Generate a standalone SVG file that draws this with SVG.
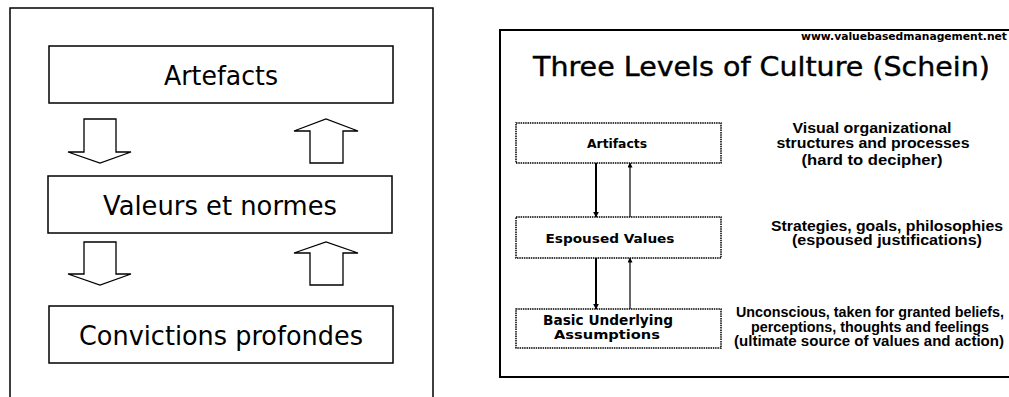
<svg xmlns="http://www.w3.org/2000/svg" width="1009" height="397" viewBox="0 0 1009 397">
<defs>
<style>
.frame{fill:#fff;stroke:#000;stroke-width:1.5}
.box{fill:#fff;stroke:#000;stroke-width:1.5}
.big{font-family:"DejaVu Sans",Verdana,sans-serif;font-size:27px;fill:#000;text-anchor:middle}
.blk{fill:#fff;stroke:#000;stroke-width:1.3}
.rframe{fill:#fff;stroke:#000;stroke-width:2}
.dbox{fill:#fff;stroke:#000;stroke-width:1.5;stroke-dasharray:1.5 0.8}
.sm{font-family:"DejaVu Sans",Verdana,sans-serif;font-size:13px;font-weight:bold;fill:#000;text-anchor:middle}
.desc{font-family:"Liberation Sans",Arial,sans-serif;font-size:14px;font-weight:bold;fill:#000;text-anchor:middle}
.title{font-family:"DejaVu Sans",Verdana,sans-serif;font-size:26px;fill:#000;stroke:#000;stroke-width:0.4}
.dn{stroke:#000;stroke-width:2;fill:none}
.up{stroke:#000;stroke-width:1.2;fill:none}
</style>
<marker id="ah" viewBox="0 0 10 10" refX="9" refY="5" markerWidth="5" markerHeight="5" markerUnits="userSpaceOnUse" orient="auto">
<path d="M0,0 L10,5 L0,10 Z" fill="#000"/>
</marker>
<marker id="ah2" viewBox="0 0 10 10" refX="9" refY="5" markerWidth="6" markerHeight="6" markerUnits="userSpaceOnUse" orient="auto">
<path d="M0,0 L10,5 L0,10 Z" fill="#000"/>
</marker>
</defs>
<rect width="1009" height="397" fill="#fff"/>

<!-- Left panel -->
<path class="frame" d="M10,400 L10,8 L433,8 L433,400"/>
<g id="artefacts">
<rect class="box" x="49" y="46" width="344" height="57"/>
<text class="big" x="221" y="85" textLength="114" lengthAdjust="spacingAndGlyphs">Artefacts</text>
</g>
<g id="valeurs">
<rect class="box" x="48" y="176" width="344" height="57"/>
<text class="big" x="220" y="215" textLength="234" lengthAdjust="spacingAndGlyphs">Valeurs et normes</text>
</g>
<g id="convictions">
<rect class="box" x="49" y="306" width="344" height="57"/>
<text class="big" x="221" y="345" textLength="284" lengthAdjust="spacingAndGlyphs">Convictions profondes</text>
</g>
<g id="block-arrows">
<path class="blk" d="M84,119 L116,119 L116,152 L131,152 L100,163 L68,152 L84,152 Z"/>
<path class="blk" d="M310,163 L343,163 L343,131 L358,131 L326,119 L294,131 L310,131 Z"/>
<path class="blk" d="M84,242 L116,242 L116,274 L131,274 L100,285 L68,274 L84,274 Z"/>
<path class="blk" d="M310,285 L343,285 L343,253 L358,253 L326,242 L294,253 L310,253 Z"/>
</g>

<!-- Right panel -->
<rect class="rframe" x="500" y="30" width="520" height="347"/>
<text class="sm" x="1007" y="40" style="text-anchor:end;font-size:10px" textLength="206" lengthAdjust="spacingAndGlyphs">www.valuebasedmanagement.net</text>
<text class="title" x="533" y="76" textLength="457" lengthAdjust="spacingAndGlyphs">Three Levels of Culture (Schein)</text>

<g id="artifacts">
<rect class="dbox" x="516" y="123" width="205" height="40"/>
<text class="sm" x="617" y="148" textLength="60" lengthAdjust="spacingAndGlyphs">Artifacts</text>
</g>
<g id="espoused">
<rect class="dbox" x="516" y="217" width="205" height="41"/>
<text class="sm" x="610" y="243" textLength="129" lengthAdjust="spacingAndGlyphs">Espoused Values</text>
</g>
<g id="basic">
<rect class="dbox" x="516" y="309" width="205" height="39"/>
<text class="sm" x="608" y="325" style="font-size:14px" textLength="130" lengthAdjust="spacingAndGlyphs">Basic Underlying</text>
<text class="sm" x="607" y="339" textLength="106" lengthAdjust="spacingAndGlyphs">Assumptions</text>
</g>

<g id="connectors">
<line class="dn" x1="596" y1="163" x2="596" y2="217" marker-end="url(#ah2)"/>
<line class="up" x1="630" y1="217" x2="630" y2="163" marker-end="url(#ah)"/>
<line class="dn" x1="596" y1="258" x2="596" y2="309" marker-end="url(#ah2)"/>
<line class="up" x1="630" y1="309" x2="630" y2="258" marker-end="url(#ah)"/>
</g>

<g id="descriptions">
<text class="desc" x="872" y="133" textLength="159" lengthAdjust="spacingAndGlyphs">Visual organizational</text>
<text class="desc" x="873" y="148" textLength="193" lengthAdjust="spacingAndGlyphs">structures and processes</text>
<text class="desc" x="872" y="165" textLength="141" lengthAdjust="spacingAndGlyphs">(hard to decipher)</text>
<text class="desc" x="887" y="231" textLength="232" lengthAdjust="spacingAndGlyphs">Strategies, goals, philosophies</text>
<text class="desc" x="887" y="245" textLength="190" lengthAdjust="spacingAndGlyphs">(espoused justifications)</text>
<text class="desc" x="870" y="317" textLength="268" lengthAdjust="spacingAndGlyphs">Unconscious, taken for granted beliefs,</text>
<text class="desc" x="870" y="332" textLength="238" lengthAdjust="spacingAndGlyphs">perceptions, thoughts and feelings</text>
<text class="desc" x="869" y="346" textLength="270" lengthAdjust="spacingAndGlyphs">(ultimate source of values and action)</text>
</g>
</svg>
